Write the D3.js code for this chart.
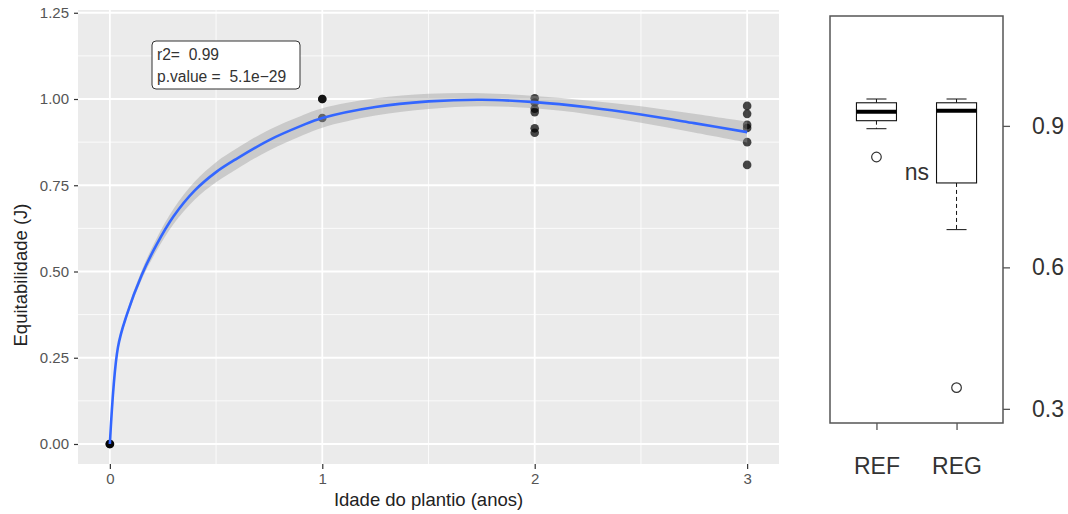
<!DOCTYPE html>
<html><head><meta charset="utf-8">
<script src="https://cdn.jsdelivr.net/npm/d3@7"></script>
<style>
html,body{margin:0;padding:0;background:#fff;}
svg{display:block;font-family:"Liberation Sans",Arial,sans-serif;}
</style></head>
<body><svg id="chart" width="1068" height="514"></svg>
<script>
// ---------- data: left panel (scatter + fitted curve) ----------
const ageX   = [0,0,0, 1,1,1, 2,2,2,2,2,2, 3,3,3,3,3,3];
const equitY = [0,0,0, 1.0,1.0,0.945, 1.002,0.99,0.972,0.962,0.915,0.902, 0.98,0.957,0.925,0.916,0.875,0.809];
const fitX   = [0,0.038,0.08,0.15,0.22,0.3,0.4,0.5,0.6,0.75,0.9,1,1.25,1.5,1.75,2,2.25,2.5,2.75,3];
const fitY   = [0,0.28,0.375,0.49,0.578,0.66,0.735,0.788,0.828,0.881,0.922,0.945,0.977,0.993,0.998,0.991,0.976,0.955,0.93,0.904];
const fitSE  = [0,0.005,0.009,0.013,0.018,0.022,0.026,0.029,0.03,0.03,0.029,0.028,0.025,0.022,0.019,0.018,0.02,0.024,0.027,0.03];
const xTicks = [0,1,2,3];
const yTicks = [0,0.25,0.5,0.75,1.0,1.25];
const annotLines = ["r2=  0.99","p.value =  5.1e\u221229"];
// ---------- data: right panel (boxplots) ----------
const boxCats   = ["REF","REG"];
const whiskLow  = [0.894,0.680];
const q1        = [0.911,0.779];
const medians   = [0.930,0.932];
const q3        = [0.949,0.949];
const whiskHigh = [0.957,0.957];
const outliers  = [[0.834],[0.345]];
const boxTicks  = [0.3,0.6,0.9];

const svg = d3.select("#chart");
const font = '"Liberation Sans",Arial,sans-serif';

// ================= LEFT PANEL =================
const L = {left:78, right:779, top:10, bottom:464};
const x = d3.scaleLinear().domain([-0.15,3.15]).range([L.left,L.right]);
const y = d3.scaleLinear().domain([-0.058,1.258]).range([L.bottom,L.top]);

const gL = svg.append("g");
gL.append("rect").attr("x",L.left).attr("y",L.top)
  .attr("width",L.right-L.left).attr("height",L.bottom-L.top).attr("fill","#EBEBEB");

// minor grid
const minorY = yTicks.slice(0,-1).map(v=>v+0.125);
const minorX = xTicks.slice(0,-1).map(v=>v+0.5);
gL.selectAll(".mgy").data(minorY).join("line")
  .attr("x1",L.left).attr("x2",L.right).attr("y1",d=>y(d)).attr("y2",d=>y(d))
  .attr("stroke","#fff").attr("stroke-width",0.8);
gL.selectAll(".mgx").data(minorX).join("line")
  .attr("y1",L.top).attr("y2",L.bottom).attr("x1",d=>x(d)).attr("x2",d=>x(d))
  .attr("stroke","#fff").attr("stroke-width",0.8);
// major grid
gL.selectAll(".gy").data(yTicks).join("line")
  .attr("x1",L.left).attr("x2",L.right).attr("y1",d=>y(d)).attr("y2",d=>y(d))
  .attr("stroke","#fff").attr("stroke-width",1.8);
gL.selectAll(".gx").data(xTicks).join("line")
  .attr("y1",L.top).attr("y2",L.bottom).attr("x1",d=>x(d)).attr("x2",d=>x(d))
  .attr("stroke","#fff").attr("stroke-width",1.8);

// points
const pts = ageX.map((a,i)=>({a, e:equitY[i]}));
gL.selectAll(".pt").data(pts).join("circle")
  .attr("cx",d=>x(d.a)).attr("cy",d=>y(d.e)).attr("r",4.3)
  .attr("fill","#000").attr("fill-opacity",0.72);

// ribbon
const fit = fitX.map((v,i)=>({x:v, y:fitY[i], se:fitSE[i]}));
gL.append("path").datum(fit)
  .attr("d", d3.area().x(d=>x(d.x)).y0(d=>y(d.y-d.se)).y1(d=>y(d.y+d.se)).curve(d3.curveCatmullRom))
  .attr("fill","#999").attr("fill-opacity",0.4);
// fitted line
gL.append("path").datum(fit)
  .attr("d", d3.line().x(d=>x(d.x)).y(d=>y(d.y)).curve(d3.curveCatmullRom))
  .attr("fill","none").attr("stroke","#3366FF").attr("stroke-width",2.6);

// axes
const axL = gL.append("g").attr("transform",`translate(${L.left},0)`)
  .call(d3.axisLeft(y).tickValues(yTicks).tickFormat(d3.format(".2f")).tickSize(4).tickPadding(5));
const axB = gL.append("g").attr("transform",`translate(0,${L.bottom})`)
  .call(d3.axisBottom(x).tickValues(xTicks).tickFormat(d3.format("d")).tickSize(5).tickPadding(4));
[axL,axB].forEach(a=>{
  a.select(".domain").remove();
  a.selectAll(".tick line").attr("stroke","#333").attr("stroke-width",1.2);
  a.selectAll(".tick text").attr("fill","#555").style("font-size","15px").style("font-family",font);
});

// axis titles
gL.append("text").attr("x",(L.left+L.right)/2).attr("y",506)
  .attr("text-anchor","middle").attr("fill","#222").style("font-size","18.5px")
  .text("Idade do plantio (anos)");
gL.append("text").attr("transform",`translate(27,275) rotate(-90)`)
  .attr("text-anchor","middle").attr("fill","#222").style("font-size","18.5px")
  .text("Equitabilidade (J)");

// annotation label
const ann = gL.append("g");
ann.append("rect").attr("x",152).attr("y",41).attr("width",148).attr("height",48)
  .attr("rx",4).attr("fill","#fff").attr("stroke","#333").attr("stroke-width",1);
ann.selectAll("text").data(annotLines).join("text")
  .attr("x",157).attr("y",(d,i)=>60+i*22).attr("fill","#333")
  .style("font-size","15.6px").style("white-space","pre").attr("xml:space","preserve").text(d=>d);

// ================= RIGHT PANEL =================
const R = {left:830, right:1003, top:16, bottom:423};
const bx = d3.scaleLinear().domain([0.42,2.58]).range([R.left,R.right]);
const by = d3.scaleLinear().domain([0.270,1.133]).range([R.bottom,R.top]);
const gR = svg.append("g");
const bw = bx(1.25)-bx(1);   // half box width
const cw = bw/2;             // half cap width

const boxes = boxCats.map((c,i)=>({c, i:i+1, lo:whiskLow[i], q1:q1[i], med:medians[i], q3:q3[i], hi:whiskHigh[i], out:outliers[i]}));
const bg = gR.selectAll(".box").data(boxes).join("g");
// whiskers (dashed)
bg.append("line").attr("x1",d=>bx(d.i)).attr("x2",d=>bx(d.i)).attr("y1",d=>by(d.q3)).attr("y2",d=>by(d.hi))
  .attr("stroke","#111").attr("stroke-dasharray","4,3");
bg.append("line").attr("x1",d=>bx(d.i)).attr("x2",d=>bx(d.i)).attr("y1",d=>by(d.q1)).attr("y2",d=>by(d.lo))
  .attr("stroke","#111").attr("stroke-dasharray","4,3");
// caps
bg.append("line").attr("x1",d=>bx(d.i)-cw).attr("x2",d=>bx(d.i)+cw).attr("y1",d=>by(d.hi)).attr("y2",d=>by(d.hi))
  .attr("stroke","#111");
bg.append("line").attr("x1",d=>bx(d.i)-cw).attr("x2",d=>bx(d.i)+cw).attr("y1",d=>by(d.lo)).attr("y2",d=>by(d.lo))
  .attr("stroke","#111");
// box
bg.append("rect").attr("x",d=>bx(d.i)-bw).attr("width",2*bw)
  .attr("y",d=>by(d.q3)).attr("height",d=>by(d.q1)-by(d.q3))
  .attr("fill","#fff").attr("stroke","#111").attr("stroke-width",1.1);
// median
bg.append("line").attr("x1",d=>bx(d.i)-bw).attr("x2",d=>bx(d.i)+bw).attr("y1",d=>by(d.med)).attr("y2",d=>by(d.med))
  .attr("stroke","#000").attr("stroke-width",4);
// outliers
bg.each(function(d){
  d3.select(this).selectAll("circle").data(d.out).join("circle")
    .attr("cx",bx(d.i)).attr("cy",v=>by(v)).attr("r",4.8)
    .attr("fill","none").attr("stroke","#333").attr("stroke-width",1.2);
});

// frame
gR.append("rect").attr("x",R.left).attr("y",R.top).attr("width",R.right-R.left).attr("height",R.bottom-R.top)
  .attr("fill","none").attr("stroke","#555").attr("stroke-width",1.5);

// right axis
const axR = gR.append("g").attr("transform",`translate(${R.right},0)`)
  .call(d3.axisRight(by).tickValues(boxTicks).tickFormat(d3.format(".1f")).tickSize(7).tickPadding(22));
axR.select(".domain").remove();
axR.selectAll(".tick line").attr("stroke","#555").attr("stroke-width",1.3);
axR.selectAll(".tick text").attr("fill","#333").style("font-size","23px").style("font-family",font);

// bottom ticks + labels
const axRB = gR.append("g").attr("transform",`translate(0,${R.bottom})`)
  .call(d3.axisBottom(bx).tickValues([1,2]).tickFormat((d,i)=>boxCats[i]).tickSize(7).tickPadding(28));
axRB.select(".domain").remove();
axRB.selectAll(".tick line").attr("stroke","#555").attr("stroke-width",1.3);
axRB.selectAll(".tick text").attr("fill","#333").style("font-size","23px").style("font-family",font);

// ns label
gR.append("text").attr("x",929).attr("y",180).attr("text-anchor","end")
  .attr("fill","#333").style("font-size","23px").text("ns");
</script></body></html>
